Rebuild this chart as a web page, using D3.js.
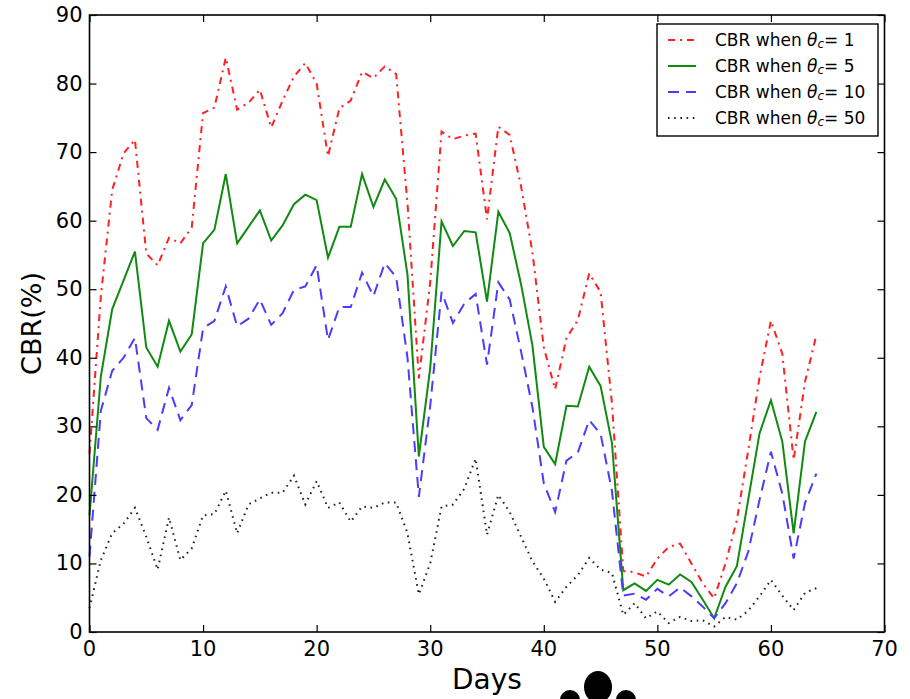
<!DOCTYPE html>
<html>
<head>
<meta charset="utf-8">
<script src="https://cdn.jsdelivr.net/npm/d3@7"></script>
<style>
  body { margin: 0; background: #fff; }
  text { font-family: "DejaVu Sans", sans-serif; fill: #000; }
</style>
</head>
<body>
<div id="chart"></div>
<script>
// days on x axis
const days = d3.range(0, 65);

// CBR values (%), one per day
const cbrTheta1 = [26, 49, 64.5, 69.8, 71.8, 55.2, 53.5, 57.5, 56.7, 59, 75.7, 76.5, 83.8, 76.2, 77.2, 79.1,
  73.6, 77.5, 81, 83, 80, 69.4, 76.4, 77.5, 81.7, 80.8, 82.5, 81.4, 62.5, 37, 51, 73,
  71.9, 72.4, 72.7, 60.2, 73.7, 72.5, 65, 55.4, 41.5, 35.4, 42.9, 45.5, 52.3, 49.6, 33.4, 8.9,
  8.7, 8.1, 10.7, 12.4, 12.9, 10, 7.1, 4.9, 10, 16.3, 26.5, 37.2, 45.4, 40.6, 25.1, 36.5, 43.3];
const cbrTheta5 = [17, 37.3, 47.1, 51.3, 55.5, 41.5, 38.7, 45.4, 40.9, 43.4, 56.7, 58.7, 66.8, 56.7, 59.1, 61.5,
  57.1, 59.3, 62.4, 63.8, 63, 54.6, 59.1, 59.1, 66.8, 62, 66, 63.2, 52.1, 25.6, 38.5, 59.9,
  56.3, 58.5, 58.3, 48.2, 61.3, 58.2, 50.7, 41.8, 27, 24.5, 33, 32.9, 38.7, 35.9, 27.6, 6.1,
  7.1, 6, 7.6, 6.9, 8.4, 7.3, 4.7, 2, 6.6, 9.6, 19.3, 29, 33.8, 27.8, 14.4, 27.8, 32.1];
const cbrTheta10 = [11, 32.3, 38.1, 40, 42.9, 31.2, 29.5, 35.6, 30.9, 33.1, 44.3, 45.4, 50.4, 44.6, 45.7, 48.5,
  44.8, 46.5, 49.9, 50.4, 53.5, 42.6, 47.4, 47.4, 52.4, 49, 53.8, 51.8, 40, 19.7, 33, 49.6,
  45.1, 47.9, 49.3, 39, 51, 48.5, 40.9, 32.8, 21.7, 17.5, 25, 26.2, 30.9, 28.9, 20.6, 5.3,
  5.6, 4.7, 6.3, 5.2, 6.5, 5.2, 3.7, 2, 4.2, 7.1, 11.7, 19.3, 26.3, 20.2, 10.7, 18.8, 23.1];
const cbrTheta50 = [3.5, 10.5, 14.4, 15.8, 18.1, 13.9, 9.1, 16.7, 10.5, 12.2, 17, 17.2, 20.6, 14.4, 18.6, 19.5,
  20.3, 20.3, 22.8, 18.6, 22, 18.1, 18.9, 16.1, 18.3, 18.1, 18.9, 18.9, 14.4, 5.5, 10, 18.3,
  18.6, 20.9, 25.3, 14.2, 20, 17.5, 13.9, 10.3, 7.8, 4.4, 6.6, 8.3, 10.8, 9.1, 8.6, 2.5,
  4.2, 2, 3, 1.3, 2.2, 1.6, 1.7, 0.8, 2.2, 1.8, 3.1, 5.2, 7.6, 5.3, 3.2, 5.7, 6.4];

const thetaValues = ["1", "5", "10", "50"];
const xTicks = [0, 10, 20, 30, 40, 50, 60, 70];
const yTicks = [0, 10, 20, 30, 40, 50, 60, 70, 80, 90];

const W = 910, H = 699;
const plot = {left: 89.5, right: 884.5, top: 15, bottom: 632};

const svg = d3.select("#chart").append("svg")
  .attr("width", W).attr("height", H);

const x = d3.scaleLinear().domain([0, 70]).range([plot.left, plot.right]);
const y = d3.scaleLinear().domain([0, 90]).range([plot.bottom, plot.top]);

const series = [
  {values: cbrTheta1,  color: "#ff2020", dash: "7,5,2,5", width: 2},
  {values: cbrTheta5,  color: "#108a10", dash: null,      width: 2},
  {values: cbrTheta10, color: "#4a3cff", dash: "11,7",    width: 2},
  {values: cbrTheta50, color: "#222",    dash: "1.6,4.6", width: 2}
];

const line = d3.line()
  .x((d, i) => x(days[i]))
  .y(d => y(d));

series.forEach(s => {
  svg.append("path")
    .datum(s.values)
    .attr("d", line)
    .attr("fill", "none")
    .attr("stroke", s.color)
    .attr("stroke-width", s.width)
    .attr("stroke-dasharray", s.dash);
});

// frame with inward ticks on all four sides
const tick = 7;
svg.append("g").attr("transform", `translate(0,${plot.bottom})`)
  .call(d3.axisBottom(x).tickValues(xTicks).tickSizeInner(-tick).tickSizeOuter(0).tickFormat(""));
svg.append("g").attr("transform", `translate(0,${plot.top})`)
  .call(d3.axisTop(x).tickValues(xTicks).tickSizeInner(-tick).tickSizeOuter(0).tickFormat(""));
svg.append("g").attr("transform", `translate(${plot.left},0)`)
  .call(d3.axisLeft(y).tickValues(yTicks).tickSizeInner(-tick).tickSizeOuter(0).tickFormat(""));
svg.append("g").attr("transform", `translate(${plot.right},0)`)
  .call(d3.axisRight(y).tickValues(yTicks).tickSizeInner(-tick).tickSizeOuter(0).tickFormat(""));
svg.selectAll(".domain").remove();
svg.selectAll(".tick line").attr("stroke", "#000").attr("stroke-width", 1.2);

svg.append("rect")
  .attr("x", plot.left).attr("y", plot.top)
  .attr("width", plot.right - plot.left).attr("height", plot.bottom - plot.top)
  .attr("fill", "none").attr("stroke", "#000").attr("stroke-width", 1.6);

// tick labels
svg.append("g").selectAll("text").data(xTicks).join("text")
  .attr("x", d => x(d)).attr("y", plot.bottom + 17)
  .attr("text-anchor", "middle").attr("dominant-baseline", "central")
  .style("font-size", "21px")
  .text(d => d);
svg.append("g").selectAll("text").data(yTicks).join("text")
  .attr("x", plot.left - 7).attr("y", d => y(d))
  .attr("text-anchor", "end").attr("dominant-baseline", "central")
  .style("font-size", "21px")
  .text(d => d);

// axis labels
svg.append("text")
  .attr("x", (plot.left + plot.right) / 2).attr("y", 689)
  .attr("text-anchor", "middle")
  .style("font-size", "28px")
  .text("Days");
svg.append("text")
  .attr("transform", `translate(31,${(plot.top + plot.bottom) / 2}) rotate(-90)`)
  .attr("text-anchor", "middle").attr("dominant-baseline", "central")
  .style("font-size", "27px")
  .text("CBR(%)");

// legend
const lg = svg.append("g");
lg.append("rect")
  .attr("x", 657).attr("y", 24).attr("width", 221).attr("height", 112)
  .attr("fill", "#fff").attr("stroke", "#000").attr("stroke-width", 1.4);
series.forEach((s, i) => {
  const ry = 40 + i * 26;
  lg.append("line")
    .attr("x1", 668).attr("x2", 696).attr("y1", ry).attr("y2", ry)
    .attr("stroke", s.color).attr("stroke-width", s.width)
    .attr("stroke-dasharray", s.dash);
  const t = lg.append("text")
    .attr("x", 715).attr("y", ry)
    .attr("dominant-baseline", "central")
    .style("font-size", "17px");
  t.append("tspan").text("CBR when ");
  t.append("tspan").style("font-style", "italic").text("θ");
  t.append("tspan").style("font-style", "italic").style("font-size", "12px")
    .attr("dy", 4).text("c");
  t.append("tspan").attr("dy", -4).text("= " + thetaValues[i]);
});

// blob mark under the x label
const blob = svg.append("g").attr("fill", "#000");
blob.append("ellipse").attr("cx", 598).attr("cy", 687).attr("rx", 14).attr("ry", 16);
blob.append("circle").attr("cx", 570).attr("cy", 700).attr("r", 10);
blob.append("circle").attr("cx", 626).attr("cy", 700).attr("r", 10);
</script>
</body>
</html>
